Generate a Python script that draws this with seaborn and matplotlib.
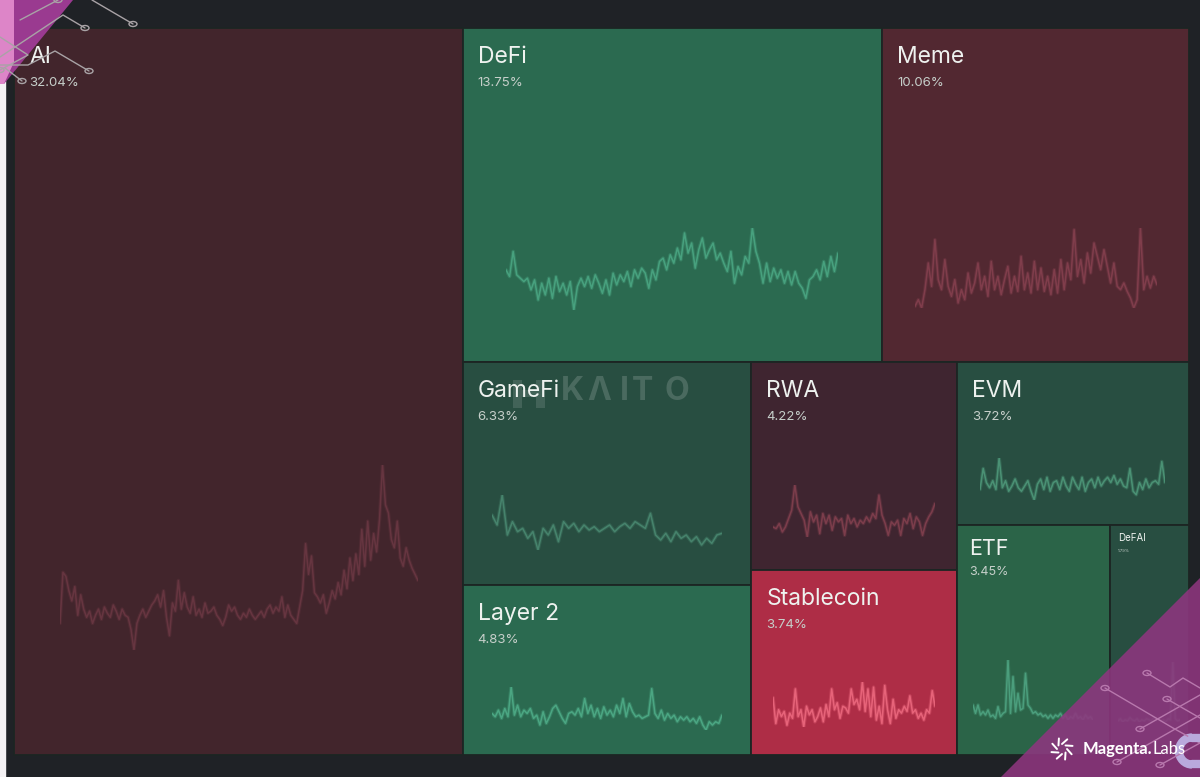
import numpy as np
import pandas as pd
import seaborn as sns
import matplotlib
matplotlib.use("Agg")
import matplotlib.pyplot as plt
from matplotlib.patches import Rectangle, Polygon, Ellipse, Arc

# shares of mindshare per narrative
names = ['AI', 'DeFi', 'Meme', 'GameFi', 'Layer 2', 'RWA', 'Stablecoin', 'EVM', 'ETF', 'DeFAI']
shares = [32.04, 13.75, 10.06, 6.33, 4.83, 4.22, 3.74, 3.72, 3.45, 1.79]

# sparkline readings
ai_vals = [30,80,76,62,52,66,38,58,44,36,42,30,38,44,34,46,40,36,48,42,34,44,38,36,24,4,30,38,44,36,42,48,52,58,46,62,36,18,50,42,72,44,60,46,40,56,38,44,36,50,40,42,46,38,34,28,36,48,42,46,38,34,40,36,44,38,34,38,42,36,44,48,40,46,42,56,36,48,38,34,30,46,62,108,78,96,60,56,50,58,40,50,62,54,70,58,82,64,94,72,98,78,122,86,130,92,118,100,132,185,146,138,112,104,130,94,86,104,92,84,78,72]
defi_vals = [120,100,175,105,95,85,95,60,90,30,80,45,95,35,100,55,80,45,85,0,70,95,70,100,65,105,80,50,90,45,110,75,105,85,115,70,120,95,125,110,65,120,90,145,155,120,165,140,185,150,230,170,200,125,180,215,155,180,200,150,170,140,115,175,80,130,105,160,140,245,175,140,80,140,85,125,95,120,80,115,75,115,80,65,35,90,100,120,90,145,100,160,115,170]
meme_vals = [5,25,0,55,135,65,205,85,55,145,65,35,85,15,55,25,105,45,75,135,55,95,35,140,55,95,40,85,125,45,95,50,155,55,105,45,140,55,120,50,95,40,115,45,145,55,135,85,235,95,145,75,165,105,195,155,115,175,125,75,135,65,55,75,50,30,0,25,240,55,95,60,95,70]
gamefi_vals = [105,75,165,45,85,55,65,35,55,0,65,45,75,25,85,65,80,55,75,60,70,55,65,75,55,70,80,65,85,75,65,110,45,30,50,25,55,35,45,25,40,15,35,20,45,50]
layer2_vals = [50,40,60,35,65,40,130,45,75,40,60,50,65,35,45,15,55,20,40,65,75,55,35,20,50,55,45,65,40,95,50,75,40,65,35,70,45,60,40,75,50,95,40,80,55,40,45,35,40,45,125,50,35,60,30,50,35,45,25,40,30,40,25,35,20,40,15,0,25,15,25,20,45]
rwa_vals = [30,25,40,15,30,55,80,155,90,70,50,0,75,45,65,10,70,40,65,20,60,45,55,5,65,40,55,30,50,40,60,45,70,55,125,65,40,5,45,35,50,5,55,40,70,25,60,45,5,40,60,75,100]
stable_vals = [90,15,55,35,50,10,45,30,115,35,55,5,65,40,55,20,35,60,20,70,35,115,55,75,30,65,60,45,115,70,85,55,135,50,115,35,120,25,65,15,125,55,15,85,30,55,45,65,50,95,45,55,30,45,25,55,45,110,65]
evm_vals = [30,90,50,35,55,30,120,35,55,25,40,60,35,25,40,55,25,0,45,60,30,65,25,50,55,30,65,40,25,65,45,30,65,25,50,60,35,65,40,55,65,50,70,45,60,40,35,90,25,15,50,30,60,35,50,55,45,110,50]
etf_vals = [45,20,45,15,25,15,30,10,15,5,40,10,20,25,180,20,130,25,80,30,35,140,45,35,20,25,15,20,10,15,5,15,5,15,10,20,5,15,0,10,5,20,5,10,0,15,5,10,0]
defai_vals = [8,10,7,9,8,11,9,8,10,7,9,8,10,9,8,11,9,10,8,9,7,10,9,62,10,8,9]
spark_vals = dict(zip(names, [ai_vals, defi_vals, meme_vals, gamefi_vals, layer2_vals,
                              rwa_vals, stable_vals, evm_vals, etf_vals, defai_vals]))

# colours, (fill, line)
tile_colors = {
    'AI': ('#42252c', '#6b3743'), 'DeFi': ('#2b6a50', '#4ba884'),
    'Meme': ('#522831', '#86404f'), 'GameFi': ('#284e41', '#4a8a72'),
    'Layer 2': ('#2b6a50', '#4fae89'), 'RWA': ('#3f2530', '#84404f'),
    'Stablecoin': ('#ae2d46', '#ee6a80'), 'EVM': ('#284e41', '#4f9a7b'),
    'ETF': ('#2b6448', '#4fa583'), 'DeFAI': ('#284e41', '#4d8f75'),
}
# sparkline boxes in pixels: left, right, top, bottom
spark_box = {
    'AI': (60, 418, 465, 650), 'DeFi': (506, 838, 228, 310),
    'Meme': (915, 1157, 228, 308), 'GameFi': (492, 722, 495, 550),
    'Layer 2': (492, 722, 687, 730), 'RWA': (773, 935, 485, 537),
    'Stablecoin': (773, 935, 682, 727), 'EVM': (980, 1165, 458, 500),
    'ETF': (973, 1093, 660, 720), 'DeFAI': (1118, 1180, 662, 722),
}
# label offsets from tile corner: dx, title dy, pct dy, title size, pct size
label_style = {n: (15, 29, 55, 16.5, 9.5) for n in names}
label_style['ETF'] = (12, 24, 47, 15.5, 9)
label_style['DeFAI'] = (8, 13, 26, 7, 3)

sns.set_theme(style='dark')
plt.rcParams['font.family'] = ['Inter', 'DejaVu Sans']

W, H = 1200, 777
fig = plt.figure(figsize=(12, 7.77), dpi=100, facecolor='#1f2226')
ax = fig.add_axes([0, 0, 1, 1])
ax.set_xlim(0, W)
ax.set_ylim(H, 0)
ax.set_axis_off()

# treemap layout from the shares
s = dict(zip(names, shares))
x0, x1, y0, y1 = 14, 1189, 28, 755


def split(parts, a, b):
    total = sum(parts)
    edges = [a + (b - a) * v / total for v in np.cumsum(parts)]
    return list(zip([a] + edges[:-1], edges))


rects = {}
(ai_x, rest_x) = split([s['AI'], sum(shares) - s['AI']], x0, x1)
rects['AI'] = (*ai_x, y0, y1)
top_y, low_y = split([s['DeFi'] + s['Meme'], sum(shares[3:])], y0, y1)
for n, xs in zip(['DeFi', 'Meme'], split([s['DeFi'], s['Meme']], *rest_x)):
    rects[n] = (*xs, *top_y)
c1, c2, c3 = split([s['GameFi'] + s['Layer 2'], s['RWA'] + s['Stablecoin'],
                    s['EVM'] + s['ETF'] + s['DeFAI']], *rest_x)
for n, ys in zip(['GameFi', 'Layer 2'], split([s['GameFi'], s['Layer 2']], *low_y)):
    rects[n] = (*c1, *ys)
for n, ys in zip(['RWA', 'Stablecoin'], split([s['RWA'], s['Stablecoin']], *low_y)):
    rects[n] = (*c2, *ys)
evm_y, small_y = split([s['EVM'], s['ETF'] + s['DeFAI']], *low_y)
rects['EVM'] = (*c3, *evm_y)
for n, xs in zip(['ETF', 'DeFAI'], split([s['ETF'], s['DeFAI']], *c3)):
    rects[n] = (*xs, *small_y)

# white page edge on the left
ax.add_patch(Rectangle((0, 0), 4.5, H, color='#f4f2f4', zorder=1))

for n, pct in zip(names, shares):
    l, r, t, b = rects[n]
    fill, line = tile_colors[n]
    ax.add_patch(Rectangle((l, t), r - l, b - t, facecolor=fill, edgecolor='#1c2523', lw=1.3, zorder=2))
    dx, ty, py, ts, ps = label_style[n]
    ax.text(l + dx, t + ty, n, color='#eef2ef', fontsize=ts, va='center', zorder=5)
    ax.text(l + dx, t + py, f'{pct:.2f}%', color='#c6cfca', fontsize=ps, va='center', zorder=5)

    # sparkline on its own small axes, wide pale pass gives the soft look
    bl, br, bt, bb = spark_box[n]
    sp = fig.add_axes([bl / W, 1 - bb / H, (br - bl) / W, (bb - bt) / H], zorder=3)
    sp.patch.set_alpha(0)
    vals = spark_vals[n]
    df = pd.DataFrame({'i': range(len(vals)), 'v': vals})
    sns.lineplot(data=df, x='i', y='v', ax=sp, color=line, lw=2.6, alpha=0.3, errorbar=None)
    sns.lineplot(data=df, x='i', y='v', ax=sp, color=line, lw=1.1, alpha=0.85, errorbar=None)
    sp.set_xlim(0, len(vals) - 1)
    sp.set_ylim(min(vals), max(vals))
    sp.set_axis_off()

# KAITO watermark, icon as bars so it sits under the GameFi label
for xb, yb, wb, hb in [(513, 380, 9, 28), (536, 380, 9, 28), (522, 390, 14, 7)]:
    ax.add_patch(Rectangle((xb, yb), wb, hb, color='white', alpha=0.12, lw=0, zorder=4))
for ch, x in zip('KΛITO', [561, 587, 620, 632, 665]):
    ax.text(x, 392, ch, color='white', alpha=0.16, fontsize=23, fontweight='bold', va='center', zorder=4)

# brand overlay on top of everything
ov = fig.add_axes([0, 0, 1, 1], zorder=10)
ov.set_xlim(0, W)
ov.set_ylim(H, 0)
ov.set_axis_off()
ov.patch.set_alpha(0)

ov.add_patch(Polygon([(1200, 578), (1001, 777), (1200, 777)], color='#8e367f', alpha=0.88, lw=0))
ov.add_patch(Polygon([(0, 0), (73, 0), (4, 84), (0, 84)], color='#9a3a90', lw=0))
ov.add_patch(Polygon([(0, 0), (14, 0), (14, 62), (4, 84), (0, 84)], color='#dd85c8', lw=0))

br_lines = [[(1147, 673), (1170, 687), (1183, 678), (1200, 688)],
            [(1105, 688), (1173, 728), (1200, 743)],
            [(1167, 699), (1200, 718)],
            [(1140, 729), (1200, 695)],
            [(1117, 762), (1200, 715)],
            [(1160, 765), (1200, 743)]]
tl_lines = [[(92, 0), (133, 24)], [(0, 57), (63, 15), (85, 28)],
            [(0, 65), (28, 65), (55, 51), (89, 71)], [(0, 37), (28, 55), (0, 70)],
            [(5, 68), (22, 81)], [(20, 20), (58, 0)]]
for group, col in [(br_lines, '#b878ad'), (tl_lines, '#a9a3a6')]:
    for pts in group:
        xs, ys = zip(*pts)
        ov.plot(xs, ys, color=col, lw=1, solid_capstyle='round')
        ov.add_patch(Ellipse(pts[0] if group is br_lines else pts[-1], 8, 5, fill=False, edgecolor=col, lw=1))

ov.add_patch(Arc((1192, 751), 26, 27, theta1=90, theta2=270, color='#b9a9dc', lw=6))
ov.plot([1192, 1200], [738, 738], color='#b9a9dc', lw=6)
ov.plot([1192, 1200], [764, 764], color='#b9a9dc', lw=6)

# burst logo
for a in np.arange(0, 2 * np.pi, np.pi / 4):
    ov.plot([1062 + 5 * np.cos(a), 1062 + 11 * np.cos(a + 0.5)],
            [749 + 5 * np.sin(a), 749 + 11 * np.sin(a + 0.5)], color='white', lw=1.4)
ov.text(1083, 749, 'Magenta.', color='white', fontsize=12, fontweight='bold', va='center', family=['Lato', 'DejaVu Sans'])
ov.text(1153, 749, 'Labs', color='white', fontsize=12, va='center', family=['Lato', 'DejaVu Sans'])

fig.savefig('out.png', dpi=100, facecolor=fig.get_facecolor())
